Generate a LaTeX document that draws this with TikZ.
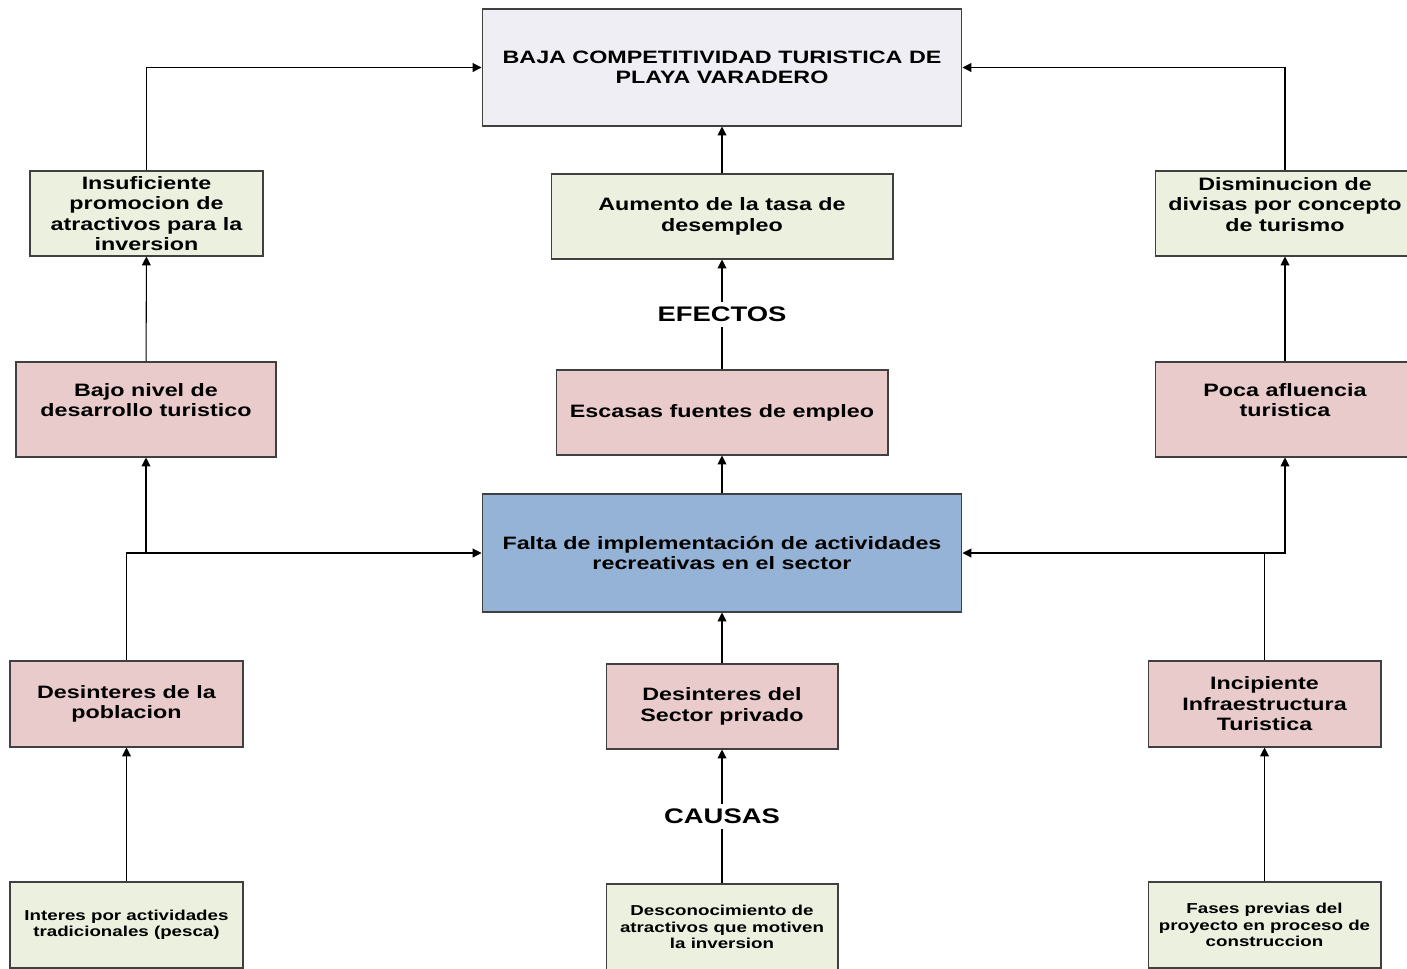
\documentclass[tikz,border=0pt]{standalone}
\usepackage{fontspec}
\newfontfamily\cajafont{Liberation Sans}[FakeStretch=1.3]
\usetikzlibrary{arrows.meta}
\definecolor{verde}{HTML}{EBF1DE}
\definecolor{rosa}{HTML}{E9CBCB}
\definecolor{azul}{HTML}{95B3D7}
\definecolor{lila}{HTML}{EFEEF4}
\definecolor{borde}{HTML}{404040}
\tikzset{
  caja/.style={draw=borde,line width=.6pt,align=center,inner sep=2pt,
    font=\cajafont\bfseries\fontsize{10.2}{11.7}\selectfont},
  efecto/.style={caja,fill=verde},
  causa/.style={caja,fill=rosa},
  raiz/.style={caja,fill=verde,font=\cajafont\bfseries\fontsize{8.2}{9.4}\selectfont},
  etiqueta/.style={fill=white,inner sep=3pt,font=\cajafont\bfseries\fontsize{12}{14}\selectfont},
  flecha/.style={-{Triangle[length=5pt,width=5pt]},line width=.6pt},
}
\begin{document}
\begin{tikzpicture}[x=.02cm,y=-.02cm]
    \clip (0,0) rectangle (1407,968);
    \fill[white] (0,0) rectangle (1407,968);
    % problema central y efecto final
    \node[caja,fill=lila,minimum width=9.6cm,minimum height=2.34cm] (baja) at (722,67.5)
        {BAJA COMPETITIVIDAD TURISTICA DE\\PLAYA VARADERO};
    \node[caja,fill=azul,minimum width=9.6cm,minimum height=2.36cm] (falta) at (722,553)
        {Falta de implementaci\'on de actividades\\recreativas en el sector};
    % efectos
    \node[efecto,minimum width=4.66cm,minimum height=1.7cm] (insu) at (146.5,213.5)
        {Insuficiente\\promocion de\\atractivos para la\\inversion};
    \node[efecto,minimum width=6.84cm,minimum height=1.7cm] (aume) at (722,216.5)
        {Aumento de la tasa de\\desempleo};
    \node[efecto,minimum width=5.2cm,minimum height=1.7cm] (dism) at (1285,213.5)
        {Disminucion de\\divisas por concepto\\de turismo\\[-1pt]};
    \node[causa,minimum width=5.2cm,minimum height=1.9cm] (bajo) at (146,409.5)
        {Bajo nivel de\\desarrollo turistico\\[-1pt]};
    \node[causa,minimum width=6.64cm,minimum height=1.7cm] (esca) at (722,412.5)
        {Escasas fuentes de empleo};
    \node[causa,minimum width=5.2cm,minimum height=1.9cm] (poca) at (1285,409.5)
        {Poca afluencia\\turistica\\[-1pt]};
    % causas
    \node[causa,minimum width=4.66cm,minimum height=1.72cm] (desp) at (126.5,704)
        {Desinteres de la\\poblacion};
    \node[causa,minimum width=4.64cm,minimum height=1.7cm] (dess) at (722,706.5)
        {Desinteres del\\Sector privado};
    \node[causa,minimum width=4.66cm,minimum height=1.72cm] (inci) at (1264.5,704)
        {Incipiente\\Infraestructura\\Turistica};
    \node[raiz,minimum width=4.66cm,minimum height=1.72cm] (inte) at (126.5,925)
        {Interes por actividades\\tradicionales (pesca)};
    \node[raiz,minimum width=4.64cm,minimum height=1.72cm] (desc) at (722,927)
        {Desconocimiento de\\atractivos que motiven\\la inversion};
    \node[raiz,minimum width=4.66cm,minimum height=1.72cm] (fase) at (1264.5,925)
        {Fases previas del\\proyecto en proceso de\\construccion};
    % conectores
    \draw[flecha] (insu.north) |- (baja.west);
    \draw[flecha] (dism.north) |- (baja.east);
    \draw[flecha] (aume) -- (baja);
    \draw[flecha] (esca) -- node[etiqueta] (efectos) {EFECTOS} (aume);
    \draw[flecha] (bajo) -- (insu);
    \draw[flecha] (poca) -- (dism);
    \draw[flecha] (falta) -- (esca);
    \draw[flecha] (desp.north) |- (falta.west);
    \draw[flecha] (bajo.south |- falta.west) -- (bajo.south);
    \draw[flecha] (inci.north) |- (falta.east);
    \draw[flecha] (inci.north |- falta.east) -| (poca.south);
    \draw[flecha] (dess) -- (falta);
    \draw[flecha] (desc) -- node[etiqueta] (causas) {CAUSAS} (dess);
    \draw[flecha] (inte) -- (desp);
    \draw[flecha] (fase) -- (inci);
\end{tikzpicture}
\end{document}
